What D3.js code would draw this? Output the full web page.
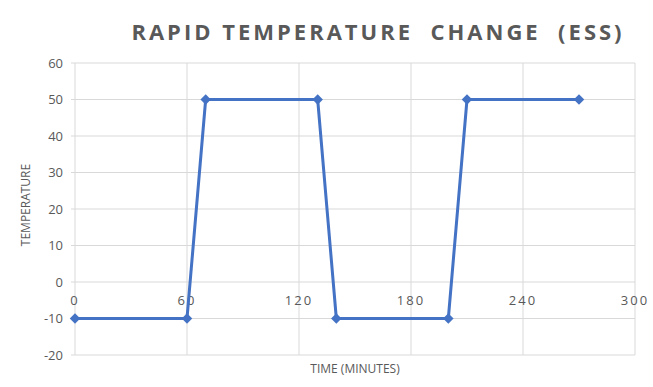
<!DOCTYPE html>
<html>
<head>
<meta charset="utf-8">
<script src="https://cdn.jsdelivr.net/npm/d3@7"></script>
<style>
  body { margin: 0; background: #fff; }
  text { font-family: "Open Sans", "Liberation Sans", sans-serif; fill: #595959; }
</style>
</head>
<body>
<div class="chartDiv"></div>
<script>
// chart data
var timeValues = [0, 60, 70, 130, 140, 200, 210, 270];
var tempValues = [-10, -10, 50, 50, -10, -10, 50, 50];
var xTicks = [0, 60, 120, 180, 240, 300];
var yTicks = [-20, -10, 0, 10, 20, 30, 40, 50, 60];

const chartWidth = 653;
const chartHeight = 387;
const plotLeft = 75, plotRight = 635, plotTop = 63, plotBottom = 355;

var svg = d3.select('.chartDiv')
    .append('svg')
    .attr('width', chartWidth)
    .attr('height', chartHeight);

const x = d3.scaleLinear().domain([0, 300]).range([plotLeft, plotRight]);
const y = d3.scaleLinear().domain([-20, 60]).range([plotBottom, plotTop]);

// gridlines
svg.selectAll('.hgrid')
    .data(yTicks)
    .enter()
    .append('line')
    .attr('x1', plotLeft - 4)
    .attr('x2', plotRight)
    .attr('y1', d => y(d))
    .attr('y2', d => y(d))
    .style('stroke', '#d9d9d9')
    .style('stroke-width', 1);

svg.selectAll('.vgrid')
    .data(xTicks)
    .enter()
    .append('line')
    .attr('x1', d => x(d))
    .attr('x2', d => x(d))
    .attr('y1', plotTop)
    .attr('y2', plotBottom)
    .style('stroke', '#d9d9d9')
    .style('stroke-width', 1);

// y tick labels
svg.selectAll('.ylab')
    .data(yTicks)
    .enter()
    .append('text')
    .attr('x', plotLeft - 12)
    .attr('y', d => y(d))
    .attr('dy', '0.35em')
    .attr('text-anchor', 'end')
    .style('font-size', '13px')
    .text(d => d);

// x tick labels sit just under the zero line
svg.selectAll('.xlab')
    .data(xTicks)
    .enter()
    .append('text')
    .attr('x', d => x(d))
    .attr('y', y(0) + 23)
    .attr('text-anchor', 'middle')
    .style('font-size', '13px')
    .style('letter-spacing', '2px')
    .text(d => d);

// line + markers
const pts = timeValues.map((t, i) => [t, tempValues[i]]);

svg.append('path')
    .datum(pts)
    .attr('fill', 'none')
    .attr('stroke', '#4472c4')
    .attr('stroke-width', 3)
    .attr('stroke-linejoin', 'round')
    .attr('d', d3.line().x(d => x(d[0])).y(d => y(d[1])));

svg.selectAll('.marker')
    .data(pts)
    .enter()
    .append('path')
    .attr('transform', d => 'translate(' + x(d[0]) + ',' + y(d[1]) + ')')
    .attr('d', d3.symbol().type(d3.symbolDiamond2).size(70))
    .attr('fill', '#4472c4');

// titles
svg.append('text')
    .attr('x', 378)
    .attr('y', 40)
    .attr('text-anchor', 'middle')
    .style('font-size', '22px')
    .style('font-weight', 'bold')
    .style('letter-spacing', '3px')
    .style('white-space', 'pre')
    .text('RAPID TEMPERATURE  CHANGE  (ESS)');

svg.append('text')
    .attr('x', 355)
    .attr('y', 373)
    .attr('text-anchor', 'middle')
    .style('font-size', '12px')
    .text('TIME (MINUTES)');

svg.append('text')
    .attr('transform', 'translate(30,' + 205 + ') rotate(-90)')
    .attr('text-anchor', 'middle')
    .style('font-size', '12px')
    .text('TEMPERATURE');
</script>
</body>
</html>
